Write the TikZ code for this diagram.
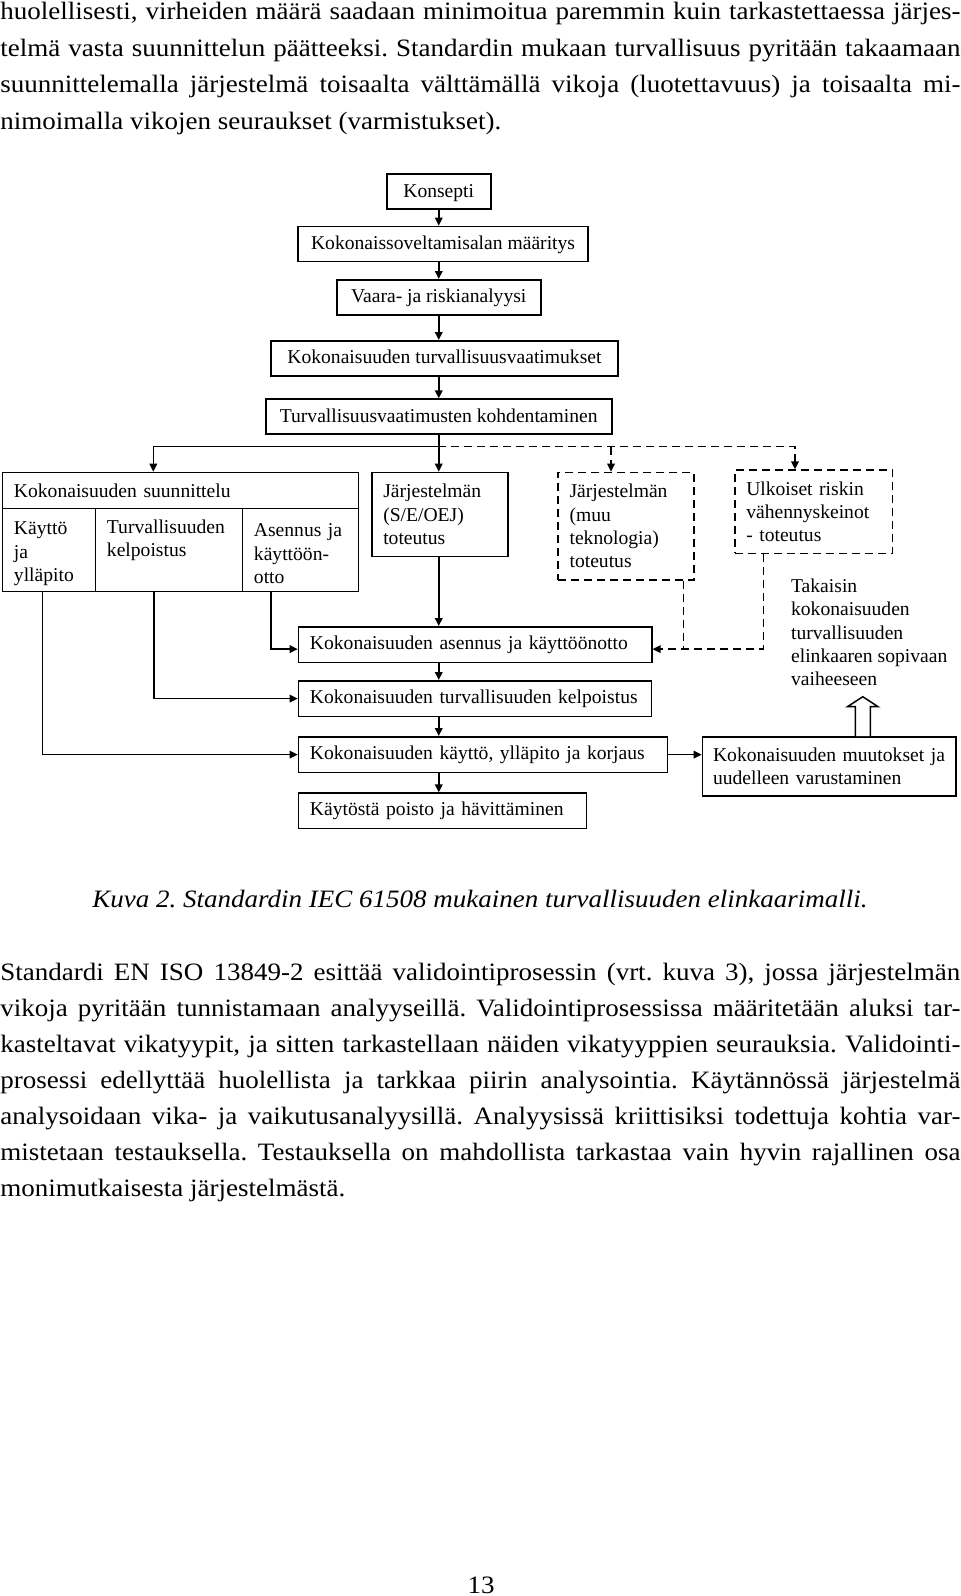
\documentclass[tikz,border=0pt]{standalone}
\usepackage{fontspec}
\setmainfont{Liberation Serif}
\newfontfamily\bodyface[FakeStretch=1.08]{Liberation Serif}
\usetikzlibrary{arrows.meta,calc,positioning}
\newcommand{\diagfont}{\fontsize{9.8}{11.7}\selectfont}
\newcommand{\bodyfont}{\bodyface\fontsize{12.5}{18}\selectfont\frenchspacing}
\newcommand{\fullline}[1]{\makebox[480pt][s]{#1}}
\newcommand{\celltop}{\rule{0pt}{10.5pt}}
\tikzset{
  box/.style={draw,line width=0.75pt,inner xsep=5.75pt,inner ysep=0pt,align=left,anchor=north west,font=\diagfont},
  cbox/.style={draw,line width=0.75pt,inner sep=0pt,text height=7.9pt,text depth=2.3pt,anchor=north west,font=\diagfont},
  dbox/.style={box,dash pattern=on 4pt off 2.5pt},
  edge/.style={-{Triangle[length=4pt,width=3.8pt]},line width=0.75pt},
  dedge/.style={edge,dash pattern=on 4pt off 2.5pt},
  dline/.style={line width=0.75pt,dash pattern=on 4pt off 2.5pt},
  bodyline/.style={anchor=base west,inner sep=0pt,font=\bodyfont},
  hollow/.style={line width=0.75pt,fill=white}
}

\begin{document}
\begin{tikzpicture}[x=0.5pt,y=-0.5pt]
\useasboundingbox (0,0) rectangle (960,1596);
\node[bodyline] (p1a) at (0,19.5) {\fullline{huolellisesti, virheiden määrä saadaan minimoitua paremmin kuin tarkastettaessa järjes-}};
\node[bodyline] (p1b) at (0,56) {\fullline{telmä vasta suunnittelun päätteeksi. Standardin mukaan turvallisuus pyritään takaamaan}};
\node[bodyline] (p1c) at (0,92.5) {\fullline{suunnittelemalla järjestelmä toisaalta välttämällä vikoja (luotettavuus) ja toisaalta mi-}};
\node[bodyline] (p1d) at (0,129) {nimoimalla vikojen seuraukset (varmistukset).};

\node[cbox,minimum width=52pt,minimum height=17.5pt] (kons) at (386,173.3) {Konsepti};
\node[cbox,minimum width=145pt,minimum height=17.5pt] (scope) at (297.3,225.7) {Kokonaissoveltamisalan määritys};
\node[cbox,minimum width=102pt,minimum height=17.6pt] (hazard) at (336,279) {Vaara- ja riskianalyysi};
\node[cbox,minimum width=173.7pt,minimum height=17.5pt] (req) at (270,340) {Kokonaisuuden turvallisuusvaatimukset};
\node[cbox,minimum width=173pt,minimum height=17.5pt] (alloc) at (265,398.3) {Turvallisuusvaatimusten kohdentaminen};

\node[box,text width=166.5pt,minimum height=18pt] (head) at (1.7,471.7) {Kokonaisuuden suunnittelu};
\node[box,text width=35pt,minimum height=41.5pt] (kaytto) at (1.7,507.7) {\celltop Käyttö\\ja\\ylläpito};
\node[box,text width=62pt,minimum height=41.5pt] (kelp) at (94.7,507.7) {\celltop Turvallisuuden\\kelpoistus\\\strut};
\node[box,text width=46.5pt,minimum height=41.5pt] (asen) at (241.7,507.7) {\celltop Asennus ja\\käyttöön-\\otto};
\node[box,text width=56.7pt,minimum height=42pt] (jarj) at (371,471.7) {Järjestelmän\\(S/E/OEJ)\\toteutus};
\node[dbox,text width=56.5pt,minimum height=53.7pt] (muu) at (557.3,471.7) {Järjestelmän\\(muu\\teknologia)\\toteutus};
\node[dbox,text width=67.4pt,minimum height=41.7pt] (ulk) at (734,469.3) {Ulkoiset riskin\\vähennyskeinot\\- toteutus};

\node[box,text width=165.2pt,minimum height=17.85pt] (inst) at (297.7,626) {\mbox{Kokonaisuuden asennus ja käyttöönotto}};
\node[box,text width=165pt,minimum height=17.85pt] (valid) at (297.7,680) {\mbox{Kokonaisuuden turvallisuuden kelpoistus}};
\node[box,text width=173pt,minimum height=17.85pt] (oper) at (297.7,736) {\mbox{Kokonaisuuden käyttö, ylläpito ja korjaus}};
\node[box,text width=132.5pt,minimum height=17.7pt] (decom) at (297.7,792.3) {\mbox{Käytöstä poisto ja hävittäminen}};
\node[box,inner xsep=5.3pt,text width=116.1pt,minimum height=29.5pt] (mod) at (701.7,736) {\mbox{Kokonaisuuden muutokset ja}\\uudelleen varustaminen};
\node[anchor=north west,inner sep=0pt,align=left,font=\diagfont] (back) at (790.7,578.3) {Takaisin\\kokonaisuuden\\turvallisuuden\\elinkaaren sopivaan\\vaiheeseen};

\draw[edge] (kons.south) -- (kons.south |- scope.north);
\draw[edge] (scope.south -| kons) -- (hazard.north -| kons);
\draw[edge] (hazard.south -| kons) -- (req.north -| kons);
\draw[edge] (req.south -| kons) -- (alloc.north -| kons);
\draw[edge] (alloc.south -| kons) -- (jarj.north -| kons);
\coordinate (split) at (438,446.7);
\coordinate (splitL) at (153.3,446.7);
\coordinate (splitM) at (611,446.7);
\coordinate (splitR) at (795,446.7);
\draw[edge] (split) -- (splitL) -- (splitL |- head.north);
\draw[dedge] (split) -- (splitR) -- (splitR |- ulk.north);
\draw[dedge] (splitM) -- (splitM |- muu.north);

\draw[edge] (jarj.south -| kons) -- (inst.north -| kons);
\draw[edge] (inst.south -| kons) -- (valid.north -| kons);
\draw[edge] (valid.south -| kons) -- (oper.north -| kons);
\draw[edge] (oper.south -| kons) -- (decom.north -| kons);
\draw[edge] ([xshift=-14.85pt]asen.south) |- ([yshift=-2.25pt]inst.west);
\draw[edge] ([xshift=-7.45pt]kelp.south) |- (valid.west);
\draw[edge] ([xshift=-3.25pt]kaytto.south) |- (oper.west);
\draw[edge] (oper.east) -- (oper.east -| mod.west);

\coordinate (instIn) at ([yshift=-2.25pt]inst.east);
\draw[dedge] ([xshift=-25.1pt]ulk.south) |- (instIn);
\draw[dline] ([xshift=28.7pt]muu.south) coordinate (muuOut) -- (muuOut |- instIn);
\draw[hollow] ([xshift=13.05pt]mod.north) -- ++(0pt,14.65pt) -- ++(-3.9pt,0pt) -- ++(7.65pt,5pt) -- ++(7.65pt,-5pt) -- ++(-3.9pt,0pt) -- ++(0pt,-14.65pt);

\node[anchor=base,inner sep=0pt,font=\bodyfont\itshape] (cap) at (480,907.5) {Kuva 2. Standardin IEC 61508 mukainen turvallisuuden elinkaarimalli.};

\node[bodyline] (p2a) at (0,980.5) {\fullline{Standardi EN ISO 13849-2 esittää validointiprosessin (vrt. kuva 3), jossa järjestelmän}};
\node[bodyline] (p2b) at (0,1016.5) {\fullline{vikoja pyritään tunnistamaan analyyseillä. Validointiprosessissa määritetään aluksi tar-}};
\node[bodyline] (p2c) at (0,1052.5) {\fullline{kasteltavat vikatyypit, ja sitten tarkastellaan näiden vikatyyppien seurauksia. Validointi-}};
\node[bodyline] (p2d) at (0,1088.5) {\fullline{prosessi edellyttää huolellista ja tarkkaa piirin analysointia. Käytännössä järjestelmä}};
\node[bodyline] (p2e) at (0,1124.5) {\fullline{analysoidaan vika- ja vaikutusanalyysillä. Analyysissä kriittisiksi todettuja kohtia var-}};
\node[bodyline] (p2f) at (0,1160.5) {\fullline{mistetaan testauksella. Testauksella on mahdollista tarkastaa vain hyvin rajallinen osa}};
\node[bodyline] (p2g) at (0,1196.5) {monimutkaisesta järjestelmästä.};

\node[anchor=base,inner sep=0pt,font=\bodyfont] (pnum) at (481,1593) {13};
\end{tikzpicture}
\end{document}
